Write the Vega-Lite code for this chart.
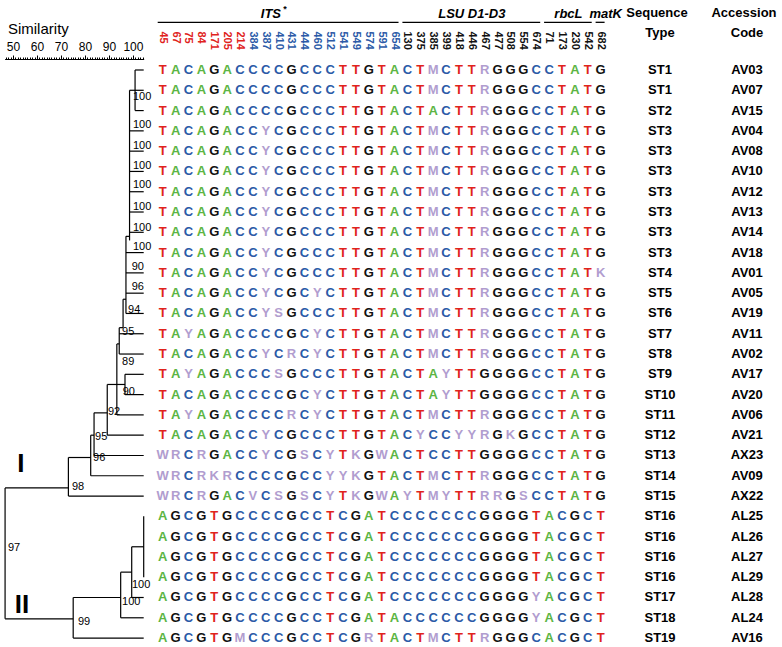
{
  "$schema": "https://vega.github.io/schema/vega-lite/v6.json",
  "width": 782,
  "height": 647,
  "padding": 0,
  "autosize": {"type": "none"},
  "background": "white",
  "config": {"view": {"stroke": null}, "text": {"font": "Liberation Sans"}, "axis": {"labelFont": "Liberation Sans"}},
  "datasets": {
    "seqs": [
      {"r":0,"st":"ST1","acc":"AV03","b":["T","A","C","A","G","A","C","C","C","C","G","C","C","C","T","T","G","T","A","C","T","M","C","T","T","R","G","G","G","C","C","T","A","T","G"],"c":[0,1,2,3,4,5,6,7,8,9,10,11,12,13,14,15,16,17,18,19,20,21,22,23,24,25,26,27,28,29,30,31,32,33,34]},
      {"r":1,"st":"ST1","acc":"AV07","b":["T","A","C","A","G","A","C","C","C","C","G","C","C","C","T","T","G","T","A","C","T","M","C","T","T","R","G","G","G","C","C","T","A","T","G"],"c":[0,1,2,3,4,5,6,7,8,9,10,11,12,13,14,15,16,17,18,19,20,21,22,23,24,25,26,27,28,29,30,31,32,33,34]},
      {"r":2,"st":"ST2","acc":"AV15","b":["T","A","C","A","G","A","C","C","C","C","G","C","C","C","T","T","G","T","A","C","T","A","C","T","T","R","G","G","G","C","C","T","A","T","G"],"c":[0,1,2,3,4,5,6,7,8,9,10,11,12,13,14,15,16,17,18,19,20,21,22,23,24,25,26,27,28,29,30,31,32,33,34]},
      {"r":3,"st":"ST3","acc":"AV04","b":["T","A","C","A","G","A","C","C","Y","C","G","C","C","C","T","T","G","T","A","C","T","M","C","T","T","R","G","G","G","C","C","T","A","T","G"],"c":[0,1,2,3,4,5,6,7,8,9,10,11,12,13,14,15,16,17,18,19,20,21,22,23,24,25,26,27,28,29,30,31,32,33,34]},
      {"r":4,"st":"ST3","acc":"AV08","b":["T","A","C","A","G","A","C","C","Y","C","G","C","C","C","T","T","G","T","A","C","T","M","C","T","T","R","G","G","G","C","C","T","A","T","G"],"c":[0,1,2,3,4,5,6,7,8,9,10,11,12,13,14,15,16,17,18,19,20,21,22,23,24,25,26,27,28,29,30,31,32,33,34]},
      {"r":5,"st":"ST3","acc":"AV10","b":["T","A","C","A","G","A","C","C","Y","C","G","C","C","C","T","T","G","T","A","C","T","M","C","T","T","R","G","G","G","C","C","T","A","T","G"],"c":[0,1,2,3,4,5,6,7,8,9,10,11,12,13,14,15,16,17,18,19,20,21,22,23,24,25,26,27,28,29,30,31,32,33,34]},
      {"r":6,"st":"ST3","acc":"AV12","b":["T","A","C","A","G","A","C","C","Y","C","G","C","C","C","T","T","G","T","A","C","T","M","C","T","T","R","G","G","G","C","C","T","A","T","G"],"c":[0,1,2,3,4,5,6,7,8,9,10,11,12,13,14,15,16,17,18,19,20,21,22,23,24,25,26,27,28,29,30,31,32,33,34]},
      {"r":7,"st":"ST3","acc":"AV13","b":["T","A","C","A","G","A","C","C","Y","C","G","C","C","C","T","T","G","T","A","C","T","M","C","T","T","R","G","G","G","C","C","T","A","T","G"],"c":[0,1,2,3,4,5,6,7,8,9,10,11,12,13,14,15,16,17,18,19,20,21,22,23,24,25,26,27,28,29,30,31,32,33,34]},
      {"r":8,"st":"ST3","acc":"AV14","b":["T","A","C","A","G","A","C","C","Y","C","G","C","C","C","T","T","G","T","A","C","T","M","C","T","T","R","G","G","G","C","C","T","A","T","G"],"c":[0,1,2,3,4,5,6,7,8,9,10,11,12,13,14,15,16,17,18,19,20,21,22,23,24,25,26,27,28,29,30,31,32,33,34]},
      {"r":9,"st":"ST3","acc":"AV18","b":["T","A","C","A","G","A","C","C","Y","C","G","C","C","C","T","T","G","T","A","C","T","M","C","T","T","R","G","G","G","C","C","T","A","T","G"],"c":[0,1,2,3,4,5,6,7,8,9,10,11,12,13,14,15,16,17,18,19,20,21,22,23,24,25,26,27,28,29,30,31,32,33,34]},
      {"r":10,"st":"ST4","acc":"AV01","b":["T","A","C","A","G","A","C","C","Y","C","G","C","C","C","T","T","G","T","A","C","T","M","C","T","T","R","G","G","G","C","C","T","A","T","K"],"c":[0,1,2,3,4,5,6,7,8,9,10,11,12,13,14,15,16,17,18,19,20,21,22,23,24,25,26,27,28,29,30,31,32,33,34]},
      {"r":11,"st":"ST5","acc":"AV05","b":["T","A","C","A","G","A","C","C","Y","C","G","C","Y","C","T","T","G","T","A","C","T","M","C","T","T","R","G","G","G","C","C","T","A","T","G"],"c":[0,1,2,3,4,5,6,7,8,9,10,11,12,13,14,15,16,17,18,19,20,21,22,23,24,25,26,27,28,29,30,31,32,33,34]},
      {"r":12,"st":"ST6","acc":"AV19","b":["T","A","C","A","G","A","C","C","Y","S","G","C","C","C","T","T","G","T","A","C","T","M","C","T","T","R","G","G","G","C","C","T","A","T","G"],"c":[0,1,2,3,4,5,6,7,8,9,10,11,12,13,14,15,16,17,18,19,20,21,22,23,24,25,26,27,28,29,30,31,32,33,34]},
      {"r":13,"st":"ST7","acc":"AV11","b":["T","A","Y","A","G","A","C","C","C","C","G","C","Y","C","T","T","G","T","A","C","T","M","C","T","T","R","G","G","G","C","C","T","A","T","G"],"c":[0,1,2,3,4,5,6,7,8,9,10,11,12,13,14,15,16,17,18,19,20,21,22,23,24,25,26,27,28,29,30,31,32,33,34]},
      {"r":14,"st":"ST8","acc":"AV02","b":["T","A","C","A","G","A","C","C","Y","C","R","C","Y","C","T","T","G","T","A","C","T","M","C","T","T","R","G","G","G","C","C","T","A","T","G"],"c":[0,1,2,3,4,5,6,7,8,9,10,11,12,13,14,15,16,17,18,19,20,21,22,23,24,25,26,27,28,29,30,31,32,33,34]},
      {"r":15,"st":"ST9","acc":"AV17","b":["T","A","Y","A","G","A","C","C","C","S","G","C","C","C","T","T","G","T","A","C","T","A","Y","T","T","G","G","G","G","C","C","T","A","T","G"],"c":[0,1,2,3,4,5,6,7,8,9,10,11,12,13,14,15,16,17,18,19,20,21,22,23,24,25,26,27,28,29,30,31,32,33,34]},
      {"r":16,"st":"ST10","acc":"AV20","b":["T","A","C","A","G","A","C","C","C","C","G","C","Y","C","T","T","G","T","A","C","T","A","Y","T","T","G","G","G","G","C","C","T","A","T","G"],"c":[0,1,2,3,4,5,6,7,8,9,10,11,12,13,14,15,16,17,18,19,20,21,22,23,24,25,26,27,28,29,30,31,32,33,34]},
      {"r":17,"st":"ST11","acc":"AV06","b":["T","A","Y","A","G","A","C","C","C","C","R","C","Y","C","T","T","G","T","A","C","T","M","C","T","T","R","G","G","G","C","C","T","A","T","G"],"c":[0,1,2,3,4,5,6,7,8,9,10,11,12,13,14,15,16,17,18,19,20,21,22,23,24,25,26,27,28,29,30,31,32,33,34]},
      {"r":18,"st":"ST12","acc":"AV21","b":["T","A","C","A","G","A","C","C","Y","C","G","C","C","C","T","T","G","T","A","C","Y","C","C","Y","Y","R","G","K","G","C","C","T","A","T","G"],"c":[0,1,2,3,4,5,6,7,8,9,10,11,12,13,14,15,16,17,18,19,20,21,22,23,24,25,26,27,28,29,30,31,32,33,34]},
      {"r":19,"st":"ST13","acc":"AX23","b":["W","R","C","R","G","A","C","C","Y","C","G","S","C","Y","T","K","G","W","A","C","T","C","C","T","T","G","G","G","G","C","C","T","A","T","G"],"c":[0,1,2,3,4,5,6,7,8,9,10,11,12,13,14,15,16,17,18,19,20,21,22,23,24,25,26,27,28,29,30,31,32,33,34]},
      {"r":20,"st":"ST14","acc":"AV09","b":["W","R","C","R","K","R","C","C","C","C","G","C","C","Y","Y","K","G","T","A","C","T","M","C","T","T","R","G","G","G","C","C","T","A","T","G"],"c":[0,1,2,3,4,5,6,7,8,9,10,11,12,13,14,15,16,17,18,19,20,21,22,23,24,25,26,27,28,29,30,31,32,33,34]},
      {"r":21,"st":"ST15","acc":"AX22","b":["W","R","C","R","G","A","C","V","C","S","G","S","C","Y","T","K","G","W","A","Y","T","M","Y","T","T","R","R","G","S","C","C","T","A","T","G"],"c":[0,1,2,3,4,5,6,7,8,9,10,11,12,13,14,15,16,17,18,19,20,21,22,23,24,25,26,27,28,29,30,31,32,33,34]},
      {"r":22,"st":"ST16","acc":"AL25","b":["A","G","C","G","T","G","C","C","C","C","G","C","C","T","C","G","A","T","C","C","C","C","C","C","C","G","G","G","G","T","A","C","G","C","T"],"c":[0,1,2,3,4,5,6,7,8,9,10,11,12,13,14,15,16,17,18,19,20,21,22,23,24,25,26,27,28,29,30,31,32,33,34]},
      {"r":23,"st":"ST16","acc":"AL26","b":["A","G","C","G","T","G","C","C","C","C","G","C","C","T","C","G","A","T","C","C","C","C","C","C","C","G","G","G","G","T","A","C","G","C","T"],"c":[0,1,2,3,4,5,6,7,8,9,10,11,12,13,14,15,16,17,18,19,20,21,22,23,24,25,26,27,28,29,30,31,32,33,34]},
      {"r":24,"st":"ST16","acc":"AL27","b":["A","G","C","G","T","G","C","C","C","C","G","C","C","T","C","G","A","T","C","C","C","C","C","C","C","G","G","G","G","T","A","C","G","C","T"],"c":[0,1,2,3,4,5,6,7,8,9,10,11,12,13,14,15,16,17,18,19,20,21,22,23,24,25,26,27,28,29,30,31,32,33,34]},
      {"r":25,"st":"ST16","acc":"AL29","b":["A","G","C","G","T","G","C","C","C","C","G","C","C","T","C","G","A","T","C","C","C","C","C","C","C","G","G","G","G","T","A","C","G","C","T"],"c":[0,1,2,3,4,5,6,7,8,9,10,11,12,13,14,15,16,17,18,19,20,21,22,23,24,25,26,27,28,29,30,31,32,33,34]},
      {"r":26,"st":"ST17","acc":"AL28","b":["A","G","C","G","T","G","C","C","C","C","G","C","C","T","C","G","A","T","C","C","C","C","C","C","C","G","G","G","G","Y","A","C","G","C","T"],"c":[0,1,2,3,4,5,6,7,8,9,10,11,12,13,14,15,16,17,18,19,20,21,22,23,24,25,26,27,28,29,30,31,32,33,34]},
      {"r":27,"st":"ST18","acc":"AL24","b":["A","G","C","G","T","G","C","C","C","C","G","C","C","T","C","G","A","T","A","C","C","C","C","C","C","G","G","G","G","Y","A","C","G","C","T"],"c":[0,1,2,3,4,5,6,7,8,9,10,11,12,13,14,15,16,17,18,19,20,21,22,23,24,25,26,27,28,29,30,31,32,33,34]},
      {"r":28,"st":"ST19","acc":"AV16","b":["A","G","C","G","T","G","M","C","C","C","G","C","C","T","C","G","R","T","A","C","T","M","C","T","T","R","G","G","G","C","A","C","G","C","T"],"c":[0,1,2,3,4,5,6,7,8,9,10,11,12,13,14,15,16,17,18,19,20,21,22,23,24,25,26,27,28,29,30,31,32,33,34]}
    ],
    "positions": [
      {"c":0,"p":"45","reg":"ITS1"},{"c":1,"p":"67","reg":"ITS1"},{"c":2,"p":"75","reg":"ITS1"},{"c":3,"p":"84","reg":"ITS1"},{"c":4,"p":"171","reg":"ITS1"},{"c":5,"p":"205","reg":"ITS1"},{"c":6,"p":"214","reg":"ITS1"},
      {"c":7,"p":"384","reg":"ITS2"},{"c":8,"p":"387","reg":"ITS2"},{"c":9,"p":"410","reg":"ITS2"},{"c":10,"p":"431","reg":"ITS2"},{"c":11,"p":"444","reg":"ITS2"},{"c":12,"p":"460","reg":"ITS2"},{"c":13,"p":"512","reg":"ITS2"},{"c":14,"p":"541","reg":"ITS2"},{"c":15,"p":"549","reg":"ITS2"},{"c":16,"p":"574","reg":"ITS2"},{"c":17,"p":"591","reg":"ITS2"},{"c":18,"p":"654","reg":"ITS2"},
      {"c":19,"p":"130","reg":"LSU"},{"c":20,"p":"375","reg":"LSU"},{"c":21,"p":"385","reg":"LSU"},{"c":22,"p":"399","reg":"LSU"},{"c":23,"p":"418","reg":"LSU"},{"c":24,"p":"446","reg":"LSU"},{"c":25,"p":"467","reg":"LSU"},{"c":26,"p":"477","reg":"LSU"},{"c":27,"p":"508","reg":"LSU"},{"c":28,"p":"554","reg":"LSU"},{"c":29,"p":"674","reg":"LSU"},
      {"c":30,"p":"71","reg":"rbcL"},{"c":31,"p":"173","reg":"rbcL"},{"c":32,"p":"230","reg":"rbcL"},{"c":33,"p":"542","reg":"rbcL"},
      {"c":34,"p":"682","reg":"matK"}
    ],
    "genes": [
      {"g":"ITS","a":0,"z":18,"m":8.4},
      {"g":"LSU D1-D3","a":19,"z":29,"m":24},
      {"g":"rbcL","a":30,"z":33,"m":31.5},
      {"g":"matK","a":34,"z":34,"m":34.4}
    ],
    "tree": [
      {"x1":100.9,"x2":104.5,"y1":0,"y2":0},
      {"x1":98.6,"x2":104.5,"y1":1,"y2":1},
      {"x1":100.9,"x2":104.5,"y1":2,"y2":2},
      {"x1":98.6,"x2":104.5,"y1":3,"y2":3},
      {"x1":98.6,"x2":104.5,"y1":4,"y2":4},
      {"x1":98.6,"x2":104.5,"y1":5,"y2":5},
      {"x1":98.6,"x2":104.5,"y1":6,"y2":6},
      {"x1":98.6,"x2":104.5,"y1":7,"y2":7},
      {"x1":98.6,"x2":104.5,"y1":8,"y2":8},
      {"x1":97.1,"x2":104.5,"y1":9,"y2":9},
      {"x1":97.1,"x2":104.5,"y1":10,"y2":10},
      {"x1":97.1,"x2":104.5,"y1":11,"y2":11},
      {"x1":97.1,"x2":104.5,"y1":12,"y2":12},
      {"x1":94.3,"x2":104.5,"y1":13,"y2":13},
      {"x1":94.3,"x2":104.5,"y1":14,"y2":14},
      {"x1":96.7,"x2":104.5,"y1":15,"y2":15},
      {"x1":96.7,"x2":104.5,"y1":16,"y2":16},
      {"x1":93.3,"x2":104.5,"y1":17,"y2":17},
      {"x1":89.3,"x2":104.5,"y1":18,"y2":18},
      {"x1":83.8,"x2":104.5,"y1":19,"y2":19},
      {"x1":82.4,"x2":104.5,"y1":20,"y2":20},
      {"x1":73.1,"x2":104.5,"y1":21,"y2":21},
      {"x1":99.5,"x2":104.5,"y1":26,"y2":26},
      {"x1":94.9,"x2":104.5,"y1":27,"y2":27},
      {"x1":75.1,"x2":104.5,"y1":28,"y2":28},
      {"x1":100.9,"x2":100.9,"y1":0,"y2":2},
      {"x1":98.6,"x2":98.6,"y1":1,"y2":8.4},
      {"x1":97.1,"x2":98.6,"y1":8.2,"y2":8.2},
      {"x1":97.1,"x2":97.1,"y1":8.2,"y2":12},
      {"x1":95.9,"x2":97.1,"y1":11.3,"y2":11.3},
      {"x1":95.9,"x2":95.9,"y1":11.3,"y2":12.7},
      {"x1":94.3,"x2":95.9,"y1":12.7,"y2":12.7},
      {"x1":94.3,"x2":94.3,"y1":12.7,"y2":14},
      {"x1":93.3,"x2":94.3,"y1":13.5,"y2":13.5},
      {"x1":93.3,"x2":93.3,"y1":13.5,"y2":17},
      {"x1":96.7,"x2":96.7,"y1":15,"y2":16},
      {"x1":89.3,"x2":96.7,"y1":15.5,"y2":15.5},
      {"x1":89.3,"x2":89.3,"y1":15.5,"y2":18},
      {"x1":83.8,"x2":89.3,"y1":16.9,"y2":16.9},
      {"x1":83.8,"x2":83.8,"y1":16.9,"y2":19},
      {"x1":82.4,"x2":83.8,"y1":18,"y2":18},
      {"x1":82.4,"x2":82.4,"y1":18,"y2":20},
      {"x1":73.1,"x2":82.4,"y1":19.1,"y2":19.1},
      {"x1":73.1,"x2":73.1,"y1":19.1,"y2":21},
      {"x1":46.7,"x2":73.1,"y1":20.6,"y2":20.6},
      {"x1":46.7,"x2":46.7,"y1":20.6,"y2":27.05},
      {"x1":46.7,"x2":75.1,"y1":27.05,"y2":27.05},
      {"x1":75.1,"x2":75.1,"y1":26,"y2":28},
      {"x1":75.1,"x2":94.9,"y1":26,"y2":26},
      {"x1":94.9,"x2":94.9,"y1":24.75,"y2":27},
      {"x1":94.9,"x2":99.5,"y1":24.75,"y2":24.75},
      {"x1":99.5,"x2":99.5,"y1":23.5,"y2":26},
      {"x1":99.5,"x2":104.5,"y1":23.5,"y2":23.5},
      {"x1":104.5,"x2":104.5,"y1":22,"y2":25}
    ],
    "boot": [
      {"s":100.0,"r":1.33,"t":"100"},{"s":100.0,"r":2.71,"t":"100"},{"s":100.0,"r":3.75,"t":"100"},{"s":100.0,"r":4.73,"t":"100"},
      {"s":100.0,"r":5.67,"t":"100"},{"s":100.0,"r":6.75,"t":"100"},{"s":100.0,"r":7.79,"t":"100"},{"s":100.0,"r":8.72,"t":"100"},
      {"s":99.5,"r":9.71,"t":"90"},{"s":99.5,"r":10.69,"t":"96"},{"s":98.0,"r":11.83,"t":"94"},{"s":95.5,"r":12.91,"t":"95"},
      {"s":95.5,"r":14.39,"t":"89"},{"s":95.75,"r":15.87,"t":"90"},{"s":89.6,"r":16.86,"t":"92"},{"s":84.2,"r":18.09,"t":"95"},
      {"s":83.4,"r":19.12,"t":"96"},{"s":74.6,"r":20.55,"t":"98"},{"s":47.9,"r":23.56,"t":"97"},{"s":99.6,"r":25.38,"t":"100"},
      {"s":95.5,"r":26.22,"t":"100"},{"s":77.1,"r":27.2,"t":"99"}
    ],
    "clades": [
      {"s":53.3,"r":19.42,"t":"I"},
      {"s":53.75,"r":26.37,"t":"II"}
    ],
    "heads": [
      {"k":"Sequence Type","t1":"Sequence","t2":"Type"},
      {"k":"Accession Code","t1":"Accession","t2":"Code"}
    ]
  },
  "layer": [
    {
      "layer": [
        {
          "data": {"name": "tree"},
          "mark": {"type": "rule", "color": "#000000", "strokeWidth": 1.2},
          "encoding": {
            "x": {"field": "x1", "type": "quantitative",
                  "scale": {"domain": [46.5, 104.5], "range": [4.6, 143.7], "nice": false, "zero": false},
                  "axis": {"orient": "top", "offset": -59, "title": null, "grid": false,
                           "values": [50, 60, 70, 80, 90, 100],
                           "tickSize": 4,
                           "labelOverlap": false, "labelBound": false, "labelFlush": false,
                           "domainColor": "#000000", "domainWidth": 1, "tickColor": "#000000", "tickWidth": 1,
                           "labelColor": "#000000", "labelFontSize": 12, "labelPadding": 2}},
            "x2": {"field": "x2"},
            "y": {"field": "y1", "type": "quantitative", "scale": {"domain": [-3.45, 28.44], "reverse": true, "nice": false, "zero": false}, "axis": null},
            "y2": {"field": "y2"}
          }
        },
        {
          "data": {"name": "boot"},
          "mark": {"type": "text", "align": "left", "baseline": "middle", "fontSize": 11, "color": "#000000"},
          "encoding": {
            "x": {"field": "s", "type": "quantitative",
                  "axis": {"orient": "top", "offset": -59, "title": null, "grid": false, "labels": false, "domain": false,
                           "values": [47,48,49,51,52,53,54,55,56,57,58,59,61,62,63,64,65,66,67,68,69,71,72,73,74,75,76,77,78,79,81,82,83,84,85,86,87,88,89,91,92,93,94,95,96,97,98,99,101,102,103,104],
                           "tickSize": 2, "tickColor": "#000000", "tickWidth": 1}},
            "y": {"field": "r", "type": "quantitative", "scale": {"domain": [-3.45, 28.44], "reverse": true, "nice": false, "zero": false}, "axis": null},
            "text": {"field": "t"}
          }
        },
        {
          "data": {"name": "clades"},
          "mark": {"type": "text", "align": "center", "baseline": "middle", "fontSize": 26, "fontWeight": "bold", "color": "#000000"},
          "encoding": {
            "x": {"field": "s", "type": "quantitative", "axis": null},
            "y": {"field": "r", "type": "quantitative", "scale": {"domain": [-3.45, 28.44], "reverse": true, "nice": false, "zero": false}, "axis": null},
            "text": {"field": "t"}
          }
        },
        {
          "data": {"values": [{}]},
          "mark": {"type": "text", "text": "Similarity", "align": "left", "baseline": "middle", "fontSize": 15, "color": "#000000"},
          "encoding": {
            "x": {"datum": 47.9, "axis": null},
            "y": {"datum": -2.02}
          }
        }
      ],
      "resolve": {"axis": {"x": "independent"}}
    },
    {
      "layer": [
        {
          "data": {"name": "seqs"},
          "transform": [{"flatten": ["b", "c"]}],
          "mark": {"type": "text", "fontSize": 13, "fontWeight": "bold", "align": "center", "baseline": "middle"},
          "encoding": {
            "x": {"field": "c", "type": "quantitative", "scale": {"domain": [0, 34], "range": [162.7, 600.6], "nice": false, "zero": false}, "axis": null},
            "y": {"field": "r", "type": "quantitative", "scale": {"domain": [-3.45, 28.44], "reverse": true, "nice": false, "zero": false}, "axis": null},
            "text": {"field": "b"},
            "color": {"field": "b", "type": "nominal", "legend": null,
                      "scale": {"domain": ["T","A","C","G","M","R","Y","S","K","W","V","ITS1","ITS2","LSU","rbcL","matK"],
                                "range": ["#e0231c","#5cb544","#2b5aa7","#111111","#b19dcf","#b19dcf","#b19dcf","#b19dcf","#b19dcf","#b19dcf","#b19dcf","#e0231c","#2b5aa7","#111111","#111111","#111111"]}}
          }
        },
        {
          "data": {"name": "positions"},
          "mark": {"type": "text", "angle": 90, "align": "left", "baseline": "middle", "fontSize": 11, "fontWeight": "bold"},
          "encoding": {
            "x": {"field": "c", "type": "quantitative"},
            "y": {"datum": -1.9},
            "text": {"field": "p"},
            "color": {"field": "reg", "type": "nominal", "legend": null}
          }
        },
        {
          "data": {"name": "genes"},
          "mark": {"type": "rule", "color": "#000000", "strokeWidth": 1.3, "xOffset": -5, "x2Offset": 4},
          "encoding": {
            "x": {"field": "a", "type": "quantitative"},
            "x2": {"field": "z"},
            "y": {"datum": -2.35}
          }
        },
        {
          "data": {"name": "genes"},
          "mark": {"type": "text", "fontSize": 13, "fontWeight": "bold", "fontStyle": "italic", "align": "center", "baseline": "middle", "color": "#000000"},
          "encoding": {
            "x": {"field": "m", "type": "quantitative"},
            "y": {"datum": -2.76},
            "text": {"field": "g"}
          }
        },
        {
          "data": {"values": [{}]},
          "mark": {"type": "text", "text": "*", "fontSize": 9, "fontWeight": "bold", "dx": 14, "dy": -5, "color": "#000000"},
          "encoding": {
            "x": {"datum": 8.4},
            "y": {"datum": -2.76}
          }
        }
      ]
    },
    {
      "layer": [
        {
          "data": {"name": "seqs"},
          "mark": {"type": "text", "fontSize": 13, "fontWeight": "bold", "align": "center", "baseline": "middle", "color": "#000000"},
          "encoding": {
            "x": {"datum": "Sequence Type", "type": "nominal", "scale": {"type": "point", "domain": ["Sequence Type", "Accession Code"], "range": [660, 747], "padding": 0}, "axis": null},
            "y": {"field": "r", "type": "quantitative", "scale": {"domain": [-3.45, 28.44], "reverse": true, "nice": false, "zero": false}, "axis": null},
            "text": {"field": "st"}
          }
        },
        {
          "data": {"name": "seqs"},
          "mark": {"type": "text", "fontSize": 13, "fontWeight": "bold", "align": "center", "baseline": "middle", "color": "#000000"},
          "encoding": {
            "x": {"datum": "Accession Code", "type": "nominal"},
            "y": {"field": "r", "type": "quantitative"},
            "text": {"field": "acc"}
          }
        },
        {
          "data": {"name": "heads"},
          "mark": {"type": "text", "fontSize": 13, "fontWeight": "bold", "align": "center", "baseline": "middle", "color": "#000000", "dx": -3},
          "encoding": {
            "x": {"field": "k", "type": "nominal"},
            "y": {"datum": -2.81},
            "text": {"field": "t1"}
          }
        },
        {
          "data": {"name": "heads"},
          "mark": {"type": "text", "fontSize": 13, "fontWeight": "bold", "align": "center", "baseline": "middle", "color": "#000000"},
          "encoding": {
            "x": {"field": "k", "type": "nominal"},
            "y": {"datum": -1.82},
            "text": {"field": "t2"}
          }
        }
      ]
    }
  ],
  "resolve": {"scale": {"x": "independent"}, "axis": {"x": "independent"}}
}
